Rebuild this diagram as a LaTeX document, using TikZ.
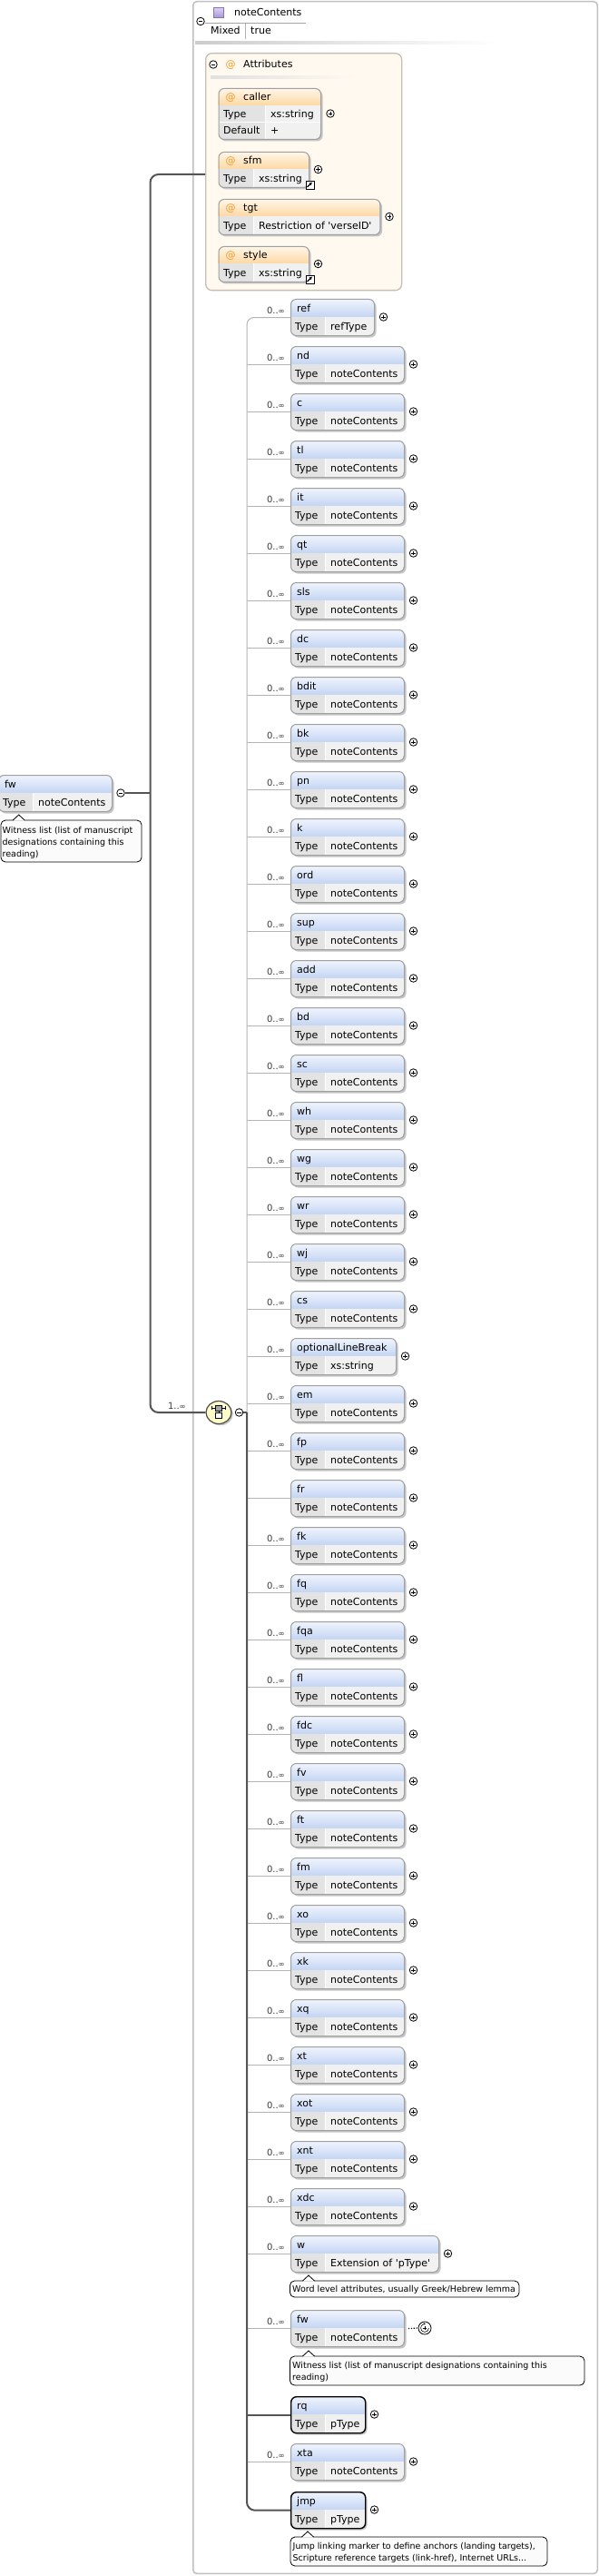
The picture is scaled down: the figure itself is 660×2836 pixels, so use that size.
\documentclass[tikz,border=0pt]{standalone}
\usepackage{fontspec}
\setmainfont{DejaVu Sans}
\usetikzlibrary{arrows.meta,shapes.geometric}

\definecolor{hdrtop}{HTML}{F1F5FD}
\definecolor{hdrbot}{HTML}{C3D5F3}
\definecolor{atop}{HTML}{FFF7EA}
\definecolor{abot}{HTML}{FDD8A4}
\definecolor{typecell}{HTML}{E3E3E3}
\definecolor{valcell}{HTML}{F1F1F1}
\definecolor{bordc}{HTML}{A0A0A0}
\definecolor{shadc}{HTML}{C6C6C6}
\definecolor{connc}{HTML}{555555}
\definecolor{thinc}{HTML}{B4B4B4}
\definecolor{framec}{HTML}{C0C0C0}
\definecolor{attrfill}{HTML}{FFF9F0}
\definecolor{attrbord}{HTML}{C6BEB2}
\definecolor{atc}{HTML}{EE9A2A}
\definecolor{annfill}{HTML}{FBFBFB}
\definecolor{seqfill}{HTML}{FFFCC8}
\definecolor{multc}{HTML}{3C3C3C}
\definecolor{iconA}{HTML}{DCD2F2}
\definecolor{iconB}{HTML}{A898D6}
\definecolor{iconC}{HTML}{8474B4}

\tikzset{
  txt/.style={font=\fontsize{11}{13}\selectfont, inner sep=0, anchor=base west, text=black},
  multtxt/.style={font=\fontsize{10}{12}\selectfont, inner sep=0, anchor=base east, text=multc},
  anntxt/.style={font=\fontsize{9.5}{12}\selectfont, inner sep=0, anchor=base west, text=black},
  conn/.style={draw=connc, line width=2},
  thinconn/.style={draw=thinc, line width=1},
  boxborder/.style={draw=bordc, line width=1},
  reqborder/.style={draw=black, line width=1.4},
  circbtn/.style={circle, draw=black, fill=white, line width=0.8, minimum size=8.5, inner sep=0},
  btnline/.style={draw=black, line width=0.8},
  annline/.style={draw=black, line width=0.8},
}

\newcommand\mult{0..{\fontsize{8.5}{10}\selectfont ∞}}

\newcommand\plusbtn[3]{%
  \node[circbtn] (#1) at (#2,#3) {};
  \draw[btnline] (#1.center) ++(-2.4,0) -- ++(4.8,0) (#1.center) ++(0,-2.4) -- ++(0,4.8);
}
\newcommand\minusbtn[3]{%
  \node[circbtn] (#1) at (#2,#3) {};
  \draw[btnline] (#1.center) ++(-2.4,0) -- ++(4.8,0);
}

% element box: id, left, top, right, name, type, multiplicity, border style
\newcommand\elem[8]{%
  \pgfmathsetmacro\eL{#2}%
  \pgfmathsetmacro\eT{#3}%
  \pgfmathsetmacro\eR{#4}%
  \pgfmathsetmacro\eW{#4-#2}%
  \pgfmathsetmacro\eS{#2+38}%
  \fill[shadc, rounded corners=6] (\eL+2.5,\eT+2.5) rectangle (\eR+2.5,\eT+42.5);
  \begin{scope}
    \clip[rounded corners=6] (\eL,\eT) rectangle (\eR,\eT+40);
    \shade[top color=hdrtop, bottom color=hdrbot] (\eL,\eT) rectangle (\eR,\eT+20);
    \fill[typecell] (\eL,\eT+20) rectangle (\eS,\eT+40);
    \fill[valcell] (\eS,\eT+20) rectangle (\eR,\eT+40);
    \draw[white, line width=1] (\eS,\eT+20) -- (\eS,\eT+40);
  \end{scope}
  \node[#8, rounded corners=6, minimum width=\eW, minimum height=40, inner sep=0, anchor=north west] (#1) at (\eL,\eT) {};
  \node[txt] (#1-n) at (\eL+7,\eT+14) {#5};
  \node[txt] (#1-t) at (\eL+5,\eT+34) {Type};
  \node[txt] (#1-v) at (\eL+44,\eT+34) {#6};
  \node[multtxt] (#1-m) at (\eL-6,\eT+16) {#7};
}

% attribute box: id, top, right, name, column separator x, type
\newcommand\attrb[6]{%
  \pgfmathsetmacro\aT{#2}%
  \pgfmathsetmacro\aW{#3-240.5}%
  \fill[shadc, rounded corners=6] (243,\aT+2.5) rectangle (#3+2.5,\aT+41.5);
  \begin{scope}
    \clip[rounded corners=6] (240.5,\aT) rectangle (#3,\aT+39);
    \shade[top color=atop, bottom color=abot] (240.5,\aT) rectangle (#3,\aT+19);
    \fill[typecell] (240.5,\aT+19) rectangle (#5,\aT+39);
    \fill[valcell] (#5,\aT+19) rectangle (#3,\aT+39);
    \draw[white, line width=1] (#5,\aT+19) -- (#5,\aT+39);
  \end{scope}
  \node[boxborder, rounded corners=6, minimum width=\aW, minimum height=39, inner sep=0, anchor=north west] (#1) at (240.5,\aT) {};
  \node[txt, text=atc] (#1-a) at (248.5,\aT+14) {@};
  \node[txt] (#1-n) at (268,\aT+14) {#4};
  \node[txt] (#1-t) at (246,\aT+33.5) {Type};
  \node[txt] (#1-v) at (#5+6,\aT+33.5) {#6};
  \plusbtn{#1p}{#3+10.5}{\aT+19.5}
}

\newcommand\linkicon[3]{%
  \node[draw=black, fill=white, line width=0.8, minimum size=9, inner sep=0, anchor=north west] (#1) at (#2,#3) {};
  \draw[line width=1.1, -{Triangle[length=3pt,width=3.2pt]}] (#2+2,#3+7) -- (#2+7.3,#3+1.7);
}

% annotation: left, top, right, bottom, pointer x
\newcommand\annot[5]{%
  \draw[annline, fill=annfill, rounded corners=5] (#1,#2) rectangle (#3,#4);
  \fill[annfill] (#5-6.5,#2+0.7) -- (#5,#2-6) -- (#5+6.5,#2+0.7) -- cycle;
  \draw[annline] (#5-6.5,#2) -- (#5,#2-6) -- (#5+6.5,#2);
}

\begin{document}
\begin{tikzpicture}[x=1pt,y=-1pt]
\useasboundingbox (0,0) rectangle (660,2836);
\fill[white] (0,0) rectangle (660,2836);

% outer frame of the complex type
\node[draw=framec, line width=1.5, rounded corners=4, minimum width=445.5, minimum height=2831.5, inner sep=0, anchor=north west] (frame) at (212,1) {};

% coordinates of the buses
\coordinate (attrin) at (226,192);
\coordinate (fwjoin) at (165.5,873);
\coordinate (busseq) at (272,1555);

% ---- noteContents header
\minusbtn{ncm}{221}{23.5}
\draw[gray!70, line width=0.8] (226,25) -- (337,25);
\shadedraw[top color=iconA, bottom color=iconB, draw=iconC, line width=0.8] (235.5,8.5) rectangle (246,19);
\node[txt] (nclabel) at (258,18) {noteContents};
\node[txt] (mixed) at (232,38) {Mixed};
\draw[gray!60, line width=0.8] (270,26) -- (270,43);
\node[txt] (truev) at (276,38) {true};
\shade[left color=black!20, right color=white] (215,45.8) rectangle (548,48.5);

% ---- attributes
\node[draw=attrbord, fill=attrfill, line width=1.3, rounded corners=7, minimum width=216, minimum height=261, inner sep=0, anchor=north west] (attrbox) at (226,58) {};
\minusbtn{attm}{235}{71}
\node[txt, text=atc] (atsym) at (248.5,75) {@};
\node[txt] (atitle) at (268,75) {Attributes};
\shade[left color=black!12, right color=attrfill] (232,84) rectangle (392,86.5);

% caller (three rows)
\fill[shadc, rounded corners=6] (243,99.5) rectangle (355.5,155.5);
\begin{scope}
  \clip[rounded corners=6] (240.5,97) rectangle (353,153);
  \shade[top color=atop, bottom color=abot] (240.5,97) rectangle (353,116);
  \fill[typecell] (240.5,116) rectangle (292.5,153);
  \fill[valcell] (292.5,116) rectangle (353,153);
  \draw[white, line width=1] (292.5,116) -- (292.5,153) (240.5,134.5) -- (353,134.5);
\end{scope}
\node[boxborder, rounded corners=6, minimum width=112.5, minimum height=56, inner sep=0, anchor=north west] (caller) at (240.5,97) {};
\node[txt, text=atc] (caller-a) at (248.5,110.5) {@};
\node[txt] (caller-n) at (268,110.5) {caller};
\node[txt] (caller-t) at (246,129.3) {Type};
\node[txt] (caller-v) at (298,129.3) {xs:string};
\node[txt] (caller-d) at (246,147.8) {Default};
\node[txt] (caller-dv) at (298,147.8) {+};
\plusbtn{callerp}{364}{125}

\attrb{sfm}{167}{340}{sfm}{279}{xs:string}
\linkicon{sfmlink}{336.5}{199}
\attrb{tgt}{219}{418.5}{tgt}{279}{Restriction of \textquotesingle verseID\textquotesingle}
\attrb{style}{271}{340}{style}{279}{xs:string}
\linkicon{stylelink}{336.5}{303}

% ---- root element fw
\elem{fwroot}{-2}{853}{123}{fw}{noteContents}{}{boxborder}
\minusbtn{fwrootm}{133}{873}
\annot{1}{903}{156}{949}{20.7}
\node[anntxt] (ra1) at (2.5,917.5) {Witness list (list of manuscript};
\node[anntxt] (ra2) at (2.5,930.5) {designations containing this};
\node[anntxt] (ra3) at (2.5,943) {reading)};

% left bus
\draw[conn] (fwrootm.east) -- (fwjoin);

% ---- sequence compositor
\fill[shadc] (242.8,1556.8) ellipse [x radius=14, y radius=12.5];
\node[ellipse, draw=black!70, line width=1.2, fill=seqfill, minimum width=28, minimum height=25, inner sep=0] (seq) at (241,1555) {};
\draw[black, line width=0.7] (233.5,1550) -- (248.5,1550);
\draw[black, line width=0.7] (233.5,1548.2) -- (233.5,1551.8) (248.5,1548.2) -- (248.5,1551.8);
\filldraw[fill=gray!70, draw=black, line width=0.7] (237.5,1547) rectangle (244.5,1553);
\draw[black, line width=0.7] (241,1553) -- (241,1555.5);
\filldraw[fill=white, draw=black, line width=0.7] (237.5,1555.5) rectangle (244.5,1561.5);
\node[multtxt] (seqmult) at (205,1551.5) {1..{\fontsize{8.5}{10}\selectfont ∞}};
\minusbtn{seqm}{263.5}{1555}

\draw[conn, rounded corners=9] (attrin) -| (fwjoin) |- (seq.west);

% ---- children
\elem{ref}{320}{329}{412}{ref}{refType}{\mult}{boxborder}
\plusbtn{pref}{422.5}{349}

\foreach \n [count=\i] in {nd,c,tl,it,qt,sls,dc,bdit,bk,pn,k,ord,sup,add,bd,sc,wh,wg,wr,wj,cs}{%
  \pgfmathsetmacro\tp{329+52*\i}%
  \elem{\n}{320}{\tp}{445}{\n}{noteContents}{\mult}{boxborder}%
  \plusbtn{p\n}{455.5}{\tp+20}%
  \draw[thinconn] (\n.west -| busseq) -- (\n.west);%
}

\elem{olb}{320}{1473}{436}{optionalLineBreak}{xs:string}{\mult}{boxborder}
\plusbtn{polb}{446.5}{1493}
\draw[thinconn] (olb.west -| busseq) -- (olb.west);

\foreach \n [count=\i from 23] in {em,fp}{%
  \pgfmathsetmacro\tp{329+52*\i}%
  \elem{\n}{320}{\tp}{445}{\n}{noteContents}{\mult}{boxborder}%
  \plusbtn{p\n}{455.5}{\tp+20}%
  \draw[thinconn] (\n.west -| busseq) -- (\n.west);%
}

\elem{fr}{320}{1629}{445}{fr}{noteContents}{}{boxborder}
\plusbtn{pfr}{455.5}{1649}
\draw[thinconn] (fr.west -| busseq) -- (fr.west);

\foreach \n [count=\i from 26] in {fk,fq,fqa,fl,fdc,fv,ft,fm,xo,xk,xq,xt,xot,xnt,xdc}{%
  \pgfmathsetmacro\tp{329+52*\i}%
  \elem{\n}{320}{\tp}{445}{\n}{noteContents}{\mult}{boxborder}%
  \plusbtn{p\n}{455.5}{\tp+20}%
  \draw[thinconn] (\n.west -| busseq) -- (\n.west);%
}

\elem{w}{320}{2461}{483}{w}{Extension of \textquotesingle pType\textquotesingle}{\mult}{boxborder}
\plusbtn{pw}{493.5}{2481}
\draw[thinconn] (w.west -| busseq) -- (w.west);
\annot{319.5}{2511}{572}{2529}{340}
\node[anntxt] (wa1) at (322,2523.5) {Word level attributes, usually Greek/Hebrew lemma};

\elem{fwc}{320}{2543}{445}{fw}{noteContents}{\mult}{boxborder}
\draw[thinconn] (fwc.west -| busseq) -- (fwc.west);
\node[circle, draw=black, line width=0.8, fill=white, minimum size=14, inner sep=0] (fwrec) at (468,2563) {};
\draw[black, line width=1.2, dash pattern=on 1.2pt off 1.6pt] (fwc.east) ++(4,0) -- (fwrec.west);
\draw[btnline, line width=0.7] (fwrec.center) ++(-2,0) -- ++(4,0) (fwrec.center) ++(0,-2) -- ++(0,4);
\draw[black, line width=0.6, -{Stealth[length=2.2pt,width=2.2pt]}] (fwrec.center) ++(4.4,0) arc[start angle=0, end angle=280, radius=4.4];
\annot{319.5}{2594}{644}{2626}{340}
\node[anntxt] (fwa1) at (322,2607) {Witness list (list of manuscript designations containing this};
\node[anntxt] (fwa2) at (322,2620) {reading)};

\elem{rq}{320}{2638}{402}{rq}{pType}{}{reqborder}
\plusbtn{prq}{412.5}{2658}

\elem{xta}{320}{2690}{445}{xta}{noteContents}{\mult}{boxborder}
\plusbtn{pxta}{455.5}{2710}
\draw[thinconn] (xta.west -| busseq) -- (xta.west);

\elem{jmp}{320}{2743}{402}{jmp}{pType}{}{reqborder}
\plusbtn{pjmp}{412.5}{2763}
\annot{320}{2793}{603}{2825}{339}
\node[anntxt] (ja1) at (322.5,2806) {Jump linking marker to define anchors (landing targets),};
\node[anntxt] (ja2) at (322.5,2819) {Scripture reference targets (link-href), Internet URLs...};

% ---- right bus
\draw[thinconn, rounded corners=8] (busseq) |- (ref.west);
\draw[conn] (seqm.east) -- (busseq);
\draw[conn, rounded corners=9] (busseq) |- (jmp.west);
\draw[conn] (rq.west -| busseq) -- (rq.west);
\end{tikzpicture}
\end{document}
